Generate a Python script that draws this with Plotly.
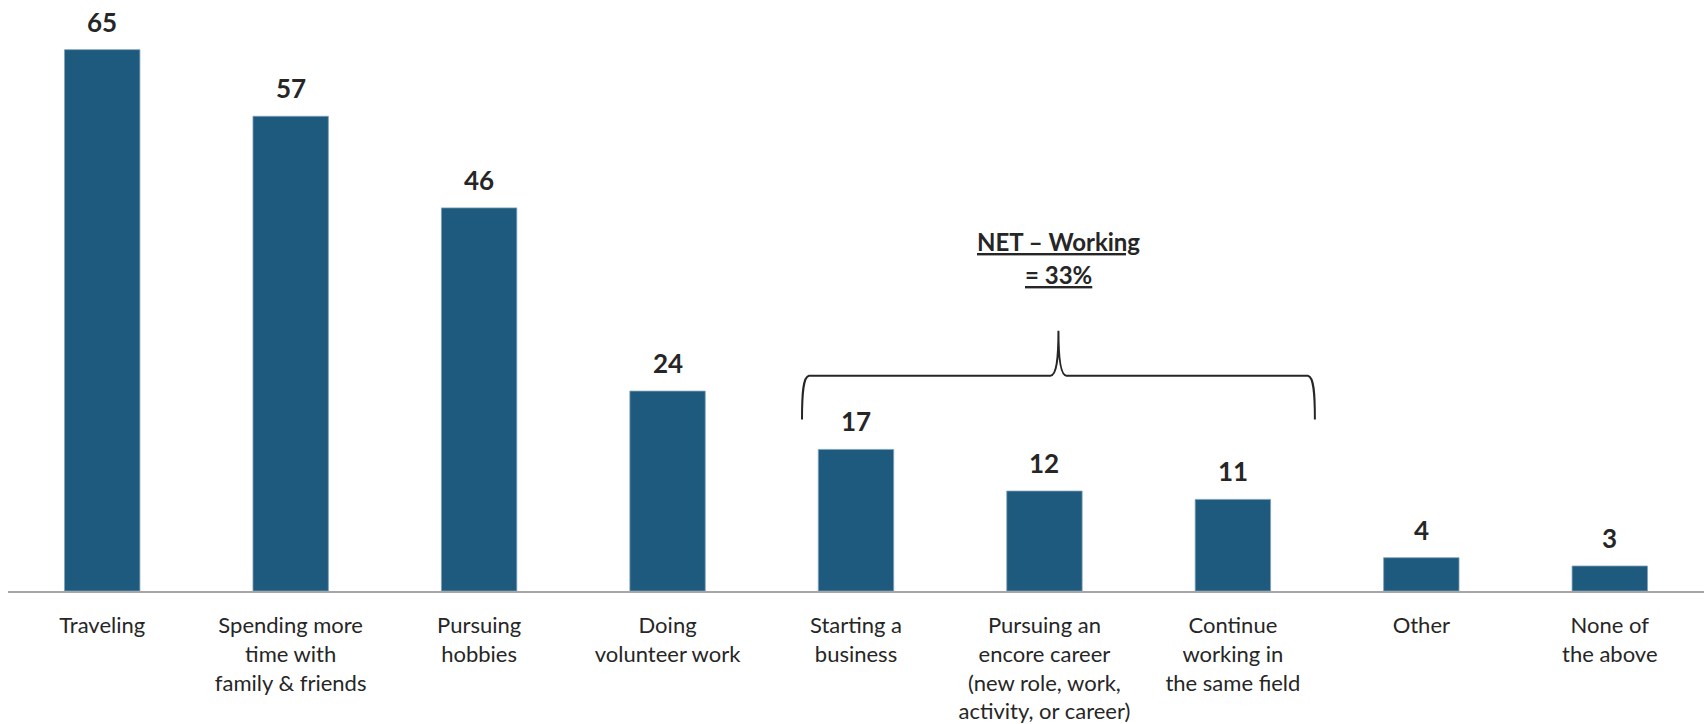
import plotly.graph_objects as go

# Survey: planned activities in retirement (% of respondents)
categories = [
    "Traveling",
    "Spending more<br>time with<br>family & friends",
    "Pursuing<br>hobbies",
    "Doing<br>volunteer work",
    "Starting a<br>business",
    "Pursuing an<br>encore career<br>(new role, work,<br>activity, or career)",
    "Continue<br>working in<br>the same field",
    "Other",
    "None of<br>the above",
]
values = [65, 57, 46, 24, 17, 12, 11, 4, 3]

# Bars grouped under the "NET – Working" brace
working_group = [4, 5, 6]
net_working = 33

# Figure geometry
W, H = 1704, 724
M_L, M_R, M_T, M_B = 8, 0, 8, 131
Y_MAX = 70
n = len(categories)
px_x = (W - M_L - M_R) / n          # pixels per category step
px_y = (H - M_T - M_B) / Y_MAX      # pixels per value unit

BAR_COLOR = "#1D5A7E"
TEXT_COLOR = "#262626"
FONT = "Lato"

xs = list(range(n))

fig = go.Figure()
fig.add_trace(go.Bar(
    x=xs,
    y=values,
    width=0.4,
    marker=dict(color=BAR_COLOR, line=dict(color="#7E9FB8", width=0.8)),
    hoverinfo="skip",
))

# Value labels above each bar
for xi, v in zip(xs, values):
    fig.add_annotation(
        x=xi, y=v, xref="x", yref="y",
        text=f"<b>{v}</b>", showarrow=False,
        yanchor="middle", yshift=28,
        font=dict(family=FONT, size=26, color=TEXT_COLOR),
    )

# Curly brace over the working-related bars, built from pixel offsets
lo, hi = min(working_group), max(working_group)
group_top = max(values[i] for i in working_group)

left_px = -54
right_px = 82
x_left = lo + left_px / px_x
x_right = hi + right_px / px_x
x_mid = (x_left + x_right) / 2
y_bot = group_top + 30 / px_y
y_bar = y_bot + 44 / px_y
y_tip = y_bar + 45 / px_y


def pt(x, y):
    return f"{x:.5f},{y:.5f}"


dx = 1 / px_x
dy = 1 / px_y
path = (
    f"M {pt(x_left, y_bot)} "
    f"C {pt(x_left, y_bot + 26 * dy)} {pt(x_left + 1 * dx, y_bar - 1 * dy)} {pt(x_left + 7 * dx, y_bar)} "
    f"L {pt(x_mid - 8 * dx, y_bar)} "
    f"C {pt(x_mid - 2 * dx, y_bar)} {pt(x_mid, y_bar + 17 * dy)} {pt(x_mid, y_tip)} "
    f"C {pt(x_mid, y_bar + 17 * dy)} {pt(x_mid + 2 * dx, y_bar)} {pt(x_mid + 8 * dx, y_bar)} "
    f"L {pt(x_right - 7 * dx, y_bar)} "
    f"C {pt(x_right - 1 * dx, y_bar - 1 * dy)} {pt(x_right, y_bot + 26 * dy)} {pt(x_right, y_bot)}"
)
fig.add_shape(type="path", path=path, xref="x", yref="y",
              line=dict(color=TEXT_COLOR, width=2))

# NET label above the brace
fig.add_annotation(
    x=x_mid, y=y_tip + 90 / px_y, xref="x", yref="y",
    text="<b><u>NET – Working</u></b>", showarrow=False, yanchor="middle",
    font=dict(family=FONT, size=24, color=TEXT_COLOR),
)
fig.add_annotation(
    x=x_mid, y=y_tip + 57 / px_y, xref="x", yref="y",
    text=f"<b><u>= {net_working}%</u></b>", showarrow=False, yanchor="middle",
    font=dict(family=FONT, size=24, color=TEXT_COLOR),
)

fig.update_layout(
    width=W, height=H,
    margin=dict(l=M_L, r=M_R, t=M_T, b=M_B),
    plot_bgcolor="white", paper_bgcolor="white",
    showlegend=False,
    font=dict(family=FONT, color=TEXT_COLOR),
)
fig.update_xaxes(
    range=[-0.5, n - 0.5],
    tickmode="array", tickvals=xs, ticktext=categories,
    showline=True, linecolor="#A6A6A6", linewidth=2,
    ticks="", showgrid=False, zeroline=False,
    tickfont=dict(family=FONT, size=22, color=TEXT_COLOR),
    ticklabelstandoff=14,
)
fig.update_yaxes(range=[0, Y_MAX], visible=False, showgrid=False, zeroline=False)

fig.write_html("out.html")
